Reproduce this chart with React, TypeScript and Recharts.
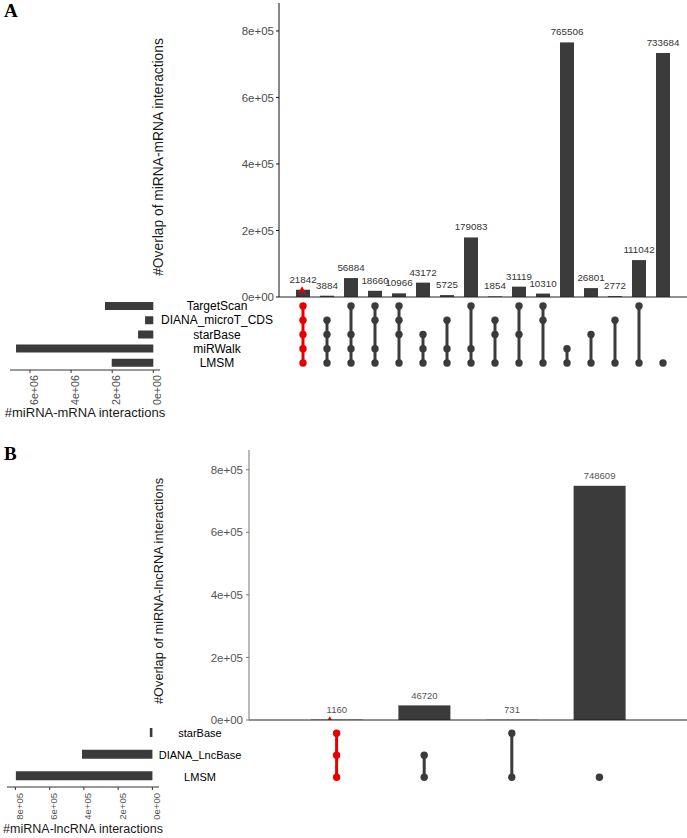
import React from "react";
import { BarChart, Bar, XAxis, YAxis, ScatterChart, Scatter, LabelList } from "recharts";

// Panel A: miRNA-mRNA
const setNamesA = ["TargetScan", "DIANA_microT_CDS", "starBase", "miRWalk", "LMSM"];
const setSizesA = [2350000, 400000, 740000, 6680000, 2023304];
const overlapA = [
  21842, 3884, 56884, 18660, 10966, 43172, 5725, 179083,
  1854, 31119, 10310, 765506, 26801, 2772, 111042, 733684,
];
// which sets (index into setNamesA) take part in each intersection
const membersA = [
  [0, 1, 2, 3, 4], [1, 2, 3, 4], [0, 2, 3, 4], [0, 1, 3, 4],
  [0, 1, 2, 4], [2, 3, 4], [1, 3, 4], [0, 3, 4],
  [1, 2, 4], [0, 2, 4], [0, 1, 4], [3, 4],
  [2, 4], [1, 4], [0, 4], [4],
];
const overlapTicksA = [0, 200000, 400000, 600000, 800000];
const sizeTicksA = [0, 2000000, 4000000, 6000000];

// Panel B: miRNA-lncRNA
const setNamesB = ["starBase", "DIANA_LncBase", "LMSM"];
const setSizesB = [15000, 411000, 797220];
const overlapB = [1160, 46720, 731, 748609];
const membersB = [[0, 1, 2], [1, 2], [0, 2], [2]];
const overlapTicksB = [0, 200000, 400000, 600000, 800000];
const sizeTicksB = [0, 200000, 400000, 600000, 800000];

const FONT = '"Liberation Sans", Arial, Helvetica, sans-serif';
const DARK = "#3b3b3b";
const RED = "#e80000";

function sci(v: number) {
  const [m, e] = v.toExponential(0).split("e");
  return `${m}e${e[0]}${e.slice(1).padStart(2, "0")}`;
}

const barShape = (triDx: number) => (props: any) => {
  const { x, y, width, height, index } = props;
  const cx = x + width / 2 + triDx;
  return (
    <g>
      <rect x={x} y={y} width={width} height={Math.max(height, 0)} fill={DARK} />
      {index === 0 && (
        <polygon points={`${cx},${y - 3.5} ${cx - 3.6},${y + 3} ${cx + 3.6},${y + 3}`} fill={RED} />
      )}
    </g>
  );
};

const dotShape = (color: string) => (props: any) => (
  <circle cx={props.cx} cy={props.cy} r={3.7} fill={color} />
);

const rotatedTick = (size: number, fill: string) => (props: any) => {
  const { x, y, payload } = props;
  const cx = x + 4;
  return (
    <text x={cx} y={y} transform={`rotate(-90 ${cx} ${y})`} textAnchor="end" dominantBaseline="central" fontSize={size} fill={fill}>
      {sci(payload.value)}
    </text>
  );
};

const EXTRA = 8; // room under the top chart so the 0e+00 tick is not clipped

function Panel({ cfg }: { cfg: any }) {
  const n = cfg.overlap.length;
  const plotW = 687 - cfg.axisW;
  const pad = plotW / (n + 1) / 2;
  const bars = cfg.overlap.map((v: number, i: number) => ({ id: i, value: v }));
  const sets = cfg.names.map((name: string, i: number) => ({ name, size: cfg.sizes[i] }));

  return (
    <>
      <div style={{ position: "absolute", left: 4, top: cfg.letterTop, fontFamily: '"Liberation Serif", "Times New Roman", serif', fontWeight: "bold", fontSize: 19, lineHeight: 1 }}>
        {cfg.letter}
      </div>

      {/* membership matrix */}
      <div style={{ position: "absolute", left: 0, top: cfg.matTop }}>
        <ScatterChart width={687} height={cfg.matH} margin={{ top: 0, right: 0, bottom: 0, left: 0 }}>
          <XAxis type="number" dataKey="x" domain={[-1, n]} hide allowDataOverflow />
          <YAxis
            type="number"
            dataKey="row"
            width={cfg.axisW}
            reversed
            domain={cfg.rowDomain}
            allowDataOverflow
            ticks={cfg.names.map((_: string, i: number) => i)}
            interval={0}
            axisLine={false}
            tickLine={false}
            tickSize={0}
            tickMargin={0}
            tick={(p: any) => (
              <text x={p.x + cfg.nameDx} y={p.y} textAnchor="middle" dominantBaseline="central" fontSize={cfg.nameSize} fill="#000">
                {cfg.names[p.payload.value]}
              </text>
            )}
          />
          {cfg.members.map((rows: number[], col: number) => {
            const color = col === 0 ? RED : DARK;
            return (
              <Scatter
                key={col}
                data={rows.map((r) => ({ x: col, row: r }))}
                line={{ stroke: color, strokeWidth: 3 }}
                lineType="joint"
                shape={dotShape(color)}
                isAnimationActive={false}
              />
            );
          })}
        </ScatterChart>
      </div>

      {/* intersection sizes */}
      <div style={{ position: "absolute", left: 0, top: cfg.top }}>
        <BarChart width={687} height={cfg.topH + EXTRA} data={bars} margin={{ top: cfg.marginTop, right: 0, bottom: EXTRA, left: 0 }}>
          <XAxis dataKey="id" type="category" height={1} tick={false} tickLine={false} padding={{ left: pad, right: pad }} axisLine={{ stroke: "#222" }} />
          <YAxis
            type="number"
            width={cfg.axisW}
            domain={[0, cfg.yMax]}
            allowDataOverflow
            ticks={cfg.overlapTicks}
            interval={0}
            tickFormatter={sci}
            tick={{ fontSize: 11.5, fill: cfg.tickColor }}
            tickSize={3}
            tickMargin={cfg.tickMargin}
            axisLine={{ stroke: cfg.axisColor }}
            tickLine={{ stroke: cfg.axisColor }}
            label={{ value: cfg.yTitle, angle: -90, position: "insideLeft", offset: cfg.yTitleX, dy: cfg.yTitleDy, fontSize: cfg.yTitleSize, fill: "#1a1a1a", style: { textAnchor: "middle" } }}
          />
          <Bar dataKey="value" barSize={cfg.barSize} shape={barShape(cfg.triDx)} isAnimationActive={false}>
            <LabelList dataKey="value" position="top" offset={cfg.labelOffset} fontSize={cfg.labelSize} fill={cfg.labelFill} />
          </Bar>
        </BarChart>
      </div>

      {/* set sizes */}
      <div style={{ position: "absolute", left: 0, top: cfg.sizeTop }}>
        <BarChart layout="vertical" width={cfg.sizeW} height={cfg.sizeH} data={sets} margin={{ top: 0, right: cfg.sizeMargin, bottom: 0, left: cfg.sizeMargin }}>
          <XAxis
            type="number"
            reversed
            domain={cfg.sizeDomain}
            allowDataOverflow
            ticks={cfg.sizeTicks}
            interval={0}
            height={cfg.sizeAxisH}
            tick={rotatedTick(cfg.sizeTickSize, cfg.tickColor)}
            tickSize={3}
            tickMargin={cfg.sizeTickMargin}
            axisLine={{ stroke: "#333" }}
            tickLine={{ stroke: "#333" }}
            label={{ value: cfg.xTitle, position: "insideBottom", offset: 3, fontSize: cfg.xTitleSize, fill: "#1a1a1a" }}
          />
          <YAxis type="category" dataKey="name" hide />
          <Bar dataKey="size" barSize={cfg.sizeBar} fill={DARK} isAnimationActive={false} />
        </BarChart>
      </div>
    </>
  );
}

const panelA = {
  letter: "A", letterTop: 1,
  overlap: overlapA, names: setNamesA, sizes: setSizesA, members: membersA,
  overlapTicks: overlapTicksA, sizeTicks: sizeTicksA,
  top: 0, topH: 298, marginTop: 3, axisW: 279, yMax: 884000,
  tickColor: "#4d4d4d", axisColor: "#111", tickMargin: 2,
  yTitle: "#Overlap of miRNA-mRNA interactions", yTitleX: 158, yTitleDy: 7, yTitleSize: 13.8,
  barSize: 14, triDx: -1, labelOffset: 7, labelSize: 9.8, labelFill: "#333",
  matTop: 297, matH: 75, rowDomain: [-0.63, 4.63], nameDx: -62, nameSize: 12,
  sizeTop: 299, sizeW: 170, sizeH: 121, sizeMargin: 10, sizeAxisH: 50,
  sizeDomain: [-326000, 6973000], sizeBar: 8, sizeTickSize: 10.7, sizeTickMargin: 2,
  xTitle: "#miRNA-mRNA interactions", xTitleSize: 13,
};

const panelB = {
  letter: "B", letterTop: 444,
  overlap: overlapB, names: setNamesB, sizes: setSizesB, members: membersB,
  overlapTicks: overlapTicksB, sizeTicks: sizeTicksB,
  top: 450, topH: 271, marginTop: 0, axisW: 249, yMax: 863000,
  tickColor: "#555", axisColor: "#777", tickMargin: 3,
  yTitle: "#Overlap of miRNA-lncRNA interactions", yTitleX: 158, yTitleDy: 6, yTitleSize: 12.8,
  barSize: 52, triDx: -7, labelOffset: 6.5, labelSize: 9.5, labelFill: "#555",
  matTop: 720, matH: 70, rowDomain: [-0.605, 2.577], nameDx: -49, nameSize: 11,
  sizeTop: 722, sizeW: 166, sizeH: 114, sizeMargin: 7, sizeAxisH: 49,
  sizeDomain: [-38500, 849000], sizeBar: 9, sizeTickSize: 9.5, sizeTickMargin: 3,
  xTitle: "#miRNA-lncRNA interactions", xTitleSize: 12.5,
};

export default function App() {
  return (
    <div style={{ position: "absolute", left: 0, top: 0, width: 687, height: 838, background: "#fff", fontFamily: FONT, overflow: "hidden" }}>
      <Panel cfg={panelA} />
      <Panel cfg={panelB} />
    </div>
  );
}
